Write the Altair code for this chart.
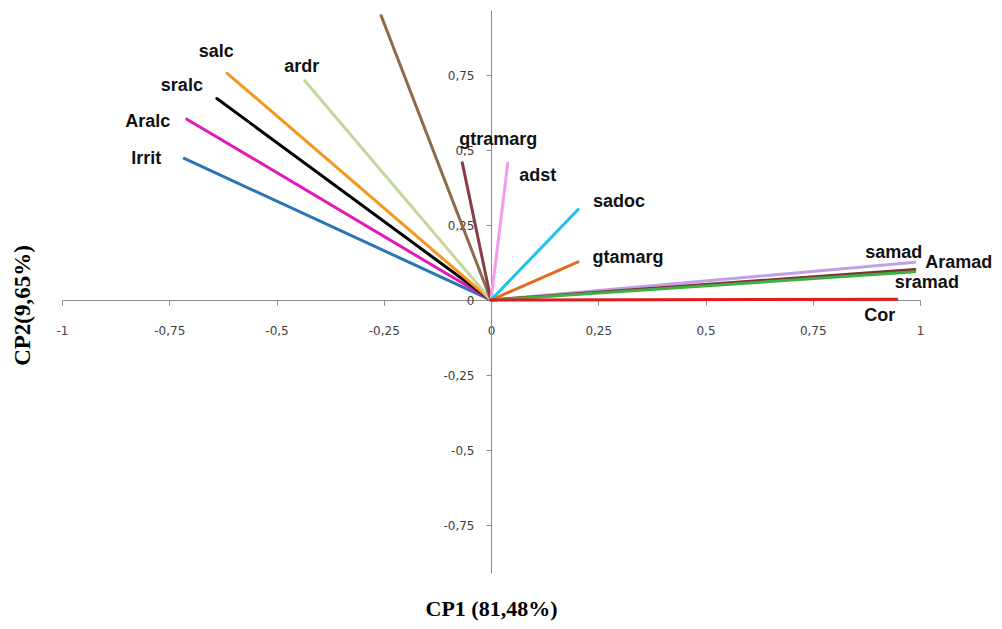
import altair as alt
import pandas as pd

# Variables (loadings on CP1 / CP2)
names = ["Irrit", "Aralc", "sralc", "salc", "ardr", "unl", "gtramarg", "adst",
         "sadoc", "gtamarg", "samad", "Aramad", "sramad", "Cor"]
labels = ["Irrit", "Aralc", "sralc", "salc", "ardr", "", "gtramarg", "adst",
          "sadoc", "gtamarg", "samad", "Aramad", "sramad", "Cor"]
cp1 = [-0.715, -0.709, -0.639, -0.615, -0.434, -0.256, -0.067, 0.039,
       0.203, 0.203, 0.988, 0.988, 0.988, 0.946]
cp2 = [0.472, 0.603, 0.672, 0.756, 0.731, 0.948, 0.458, 0.456,
       0.302, 0.127, 0.126, 0.102, 0.094, 0.003]
x_ticks = [-1, -0.75, -0.5, -0.25, 0, 0.25, 0.5, 0.75, 1]
y_ticks = [-0.75, -0.5, -0.25, 0, 0.25, 0.5, 0.75]

colors = ["#2a74b8", "#e11ab9", "#000000", "#f7961e", "#c4d79b", "#8b6c47",
          "#8b3a48", "#f59af0", "#1ec3ee", "#e26b1c", "#c3a0e6", "#7f3030",
          "#3cb043", "#e3191e"]

# label offsets in px (style)
label_offsets = {
    "Irrit": (-38, 1), "Aralc": (-39, 3), "sralc": (-35, -12), "salc": (-11, -21),
    "ardr": (-3, -14), "gtramarg": (36, -23), "adst": (30, 13), "sadoc": (41, -7),
    "gtamarg": (50, -4), "samad": (-21, -9), "Aramad": (44, -6), "sramad": (12, 11),
    "Cor": (-17, 17),
}

df = pd.DataFrame({"name": names, "label": labels, "x": cp1, "y": cp2})
df["x0"] = 0.0
df["y0"] = 0.0

W, H = 858, 563
XD = [-1, 1]
YD = [-0.91, 0.967]
y0px = (YD[1] - 0) / (YD[1] - YD[0]) * H
x_off = -(H - y0px)
y_off = -(W * (0 - XD[0]) / (XD[1] - XD[0]))

lab_expr = "replace(toString(datum.value), '.', ',')"

xscale = alt.Scale(domain=XD, nice=False, zero=False)
yscale = alt.Scale(domain=YD, nice=False, zero=False)

xaxis = alt.Axis(values=x_ticks, labelExpr=lab_expr, offset=x_off, grid=False,
                 domainColor="#8c8c8c", tickColor="#8c8c8c", tickSize=5,
                 labelPadding=20, labelFont="DejaVu Sans", labelFontSize=12,
                 labelColor="#404040", title="CP1 (81,48%)", titleFont="Liberation Serif",
                 titleFontSize=22, titleFontWeight="bold", titleColor="black",
                 titleY=320, titleBaseline="bottom", labelFlush=False, labelOverlap=False)
yaxis = alt.Axis(values=y_ticks, labelExpr=lab_expr, offset=y_off, grid=False,
                 domainColor="#8c8c8c", tickColor="#8c8c8c", tickSize=5,
                 labelPadding=12, labelFont="DejaVu Sans", labelFontSize=12,
                 labelColor="#404040", title="CP2(9,65%)", titleFont="Liberation Serif",
                 titleFontSize=23, titleFontWeight="bold", titleColor="black",
                 titleX=-469, titleY=295, titleBaseline="middle", titleAngle=-90,
                 labelFlush=False, labelOverlap=False)

base = alt.Chart(df)

vectors = base.mark_rule(strokeWidth=3, strokeCap="round").encode(
    x=alt.X("x0:Q", scale=xscale, axis=xaxis),
    y=alt.Y("y0:Q", scale=yscale, axis=yaxis),
    x2="x:Q",
    y2="y:Q",
    color=alt.Color("name:N", scale=alt.Scale(domain=names, range=colors), legend=None),
)

layers = [vectors]
for nm, (dx, dy) in label_offsets.items():
    layers.append(
        alt.Chart(df[df["name"] == nm]).mark_text(
            font="Liberation Sans", fontWeight="bold", fontSize=18, color="#111111",
            dx=dx, dy=dy, align="center", baseline="middle",
        ).encode(
            x=alt.X("x:Q", scale=xscale, axis=xaxis),
            y=alt.Y("y:Q", scale=yscale, axis=yaxis),
            text="label:N",
        )
    )

chart = alt.layer(*layers).properties(
    width=W, height=H,
    autosize=alt.AutoSizeParams(type="none"),
    padding={"left": 54, "top": 2, "right": 72, "bottom": 48},
    background="white",
).configure_view(stroke=None)

chart.save("out.html", embed_options={"renderer": "svg", "actions": False})
